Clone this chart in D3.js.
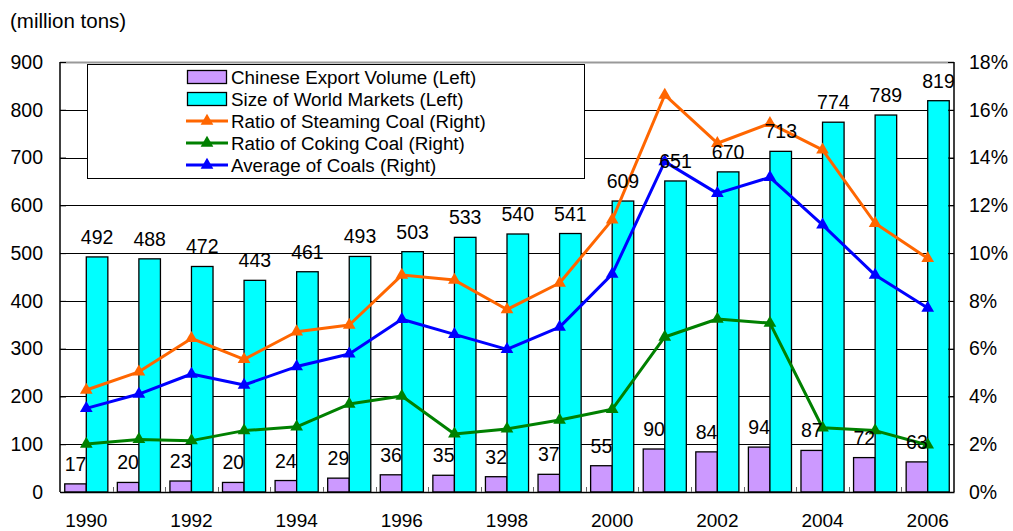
<!DOCTYPE html>
<html>
<head>
<meta charset="utf-8">
<script src="https://cdn.jsdelivr.net/npm/d3@7"></script>
<style>
  html, body { margin: 0; padding: 0; background: #fff; }
  svg { display: block; font-family: "Liberation Sans", Arial, sans-serif; }
</style>
</head>
<body>
<svg id="chart" width="1013" height="531"></svg>
<script>
// Coal trade: Chinese exports vs. world market size, plus coal export ratios
const years = [1990, 1991, 1992, 1993, 1994, 1995, 1996, 1997, 1998, 1999, 2000, 2001, 2002, 2003, 2004, 2005, 2006];
const yearLabels = ["1990", "1992", "1994", "1996", "1998", "2000", "2002", "2004", "2006"];
const chineseExport = [17, 20, 23, 20, 24, 29, 36, 35, 32, 37, 55, 90, 84, 94, 87, 72, 63];
const worldMarket = [492, 488, 472, 443, 461, 493, 503, 533, 540, 541, 609, 651, 670, 713, 774, 789, 819];
const steamingRatio = [4.27, 5.03, 6.43, 5.55, 6.71, 6.99, 9.08, 8.87, 7.64, 8.75, 11.39, 16.62, 14.6, 15.43, 14.32, 11.25, 9.78];
const cokingRatio = [2.01, 2.2, 2.15, 2.57, 2.73, 3.68, 4.02, 2.43, 2.64, 3.01, 3.46, 6.49, 7.24, 7.07, 2.69, 2.57, 1.97];
const averageRatio = [3.5, 4.1, 4.94, 4.48, 5.25, 5.78, 7.23, 6.6, 5.97, 6.9, 9.12, 13.83, 12.5, 13.17, 11.18, 9.08, 7.7];
const leftTicks = [0, 100, 200, 300, 400, 500, 600, 700, 800, 900];
const rightTicks = [0, 2, 4, 6, 8, 10, 12, 14, 16, 18];

const svg = d3.select("#chart");
const plot = { left: 60, right: 954, top: 62, bottom: 492 };

const x = d3.scaleBand().domain(years).range([plot.left, plot.right]).padding(0);
const xSub = d3.scaleBand().domain(["export", "world"]).range([0, x.bandwidth()])
  .paddingInner(0).paddingOuter(0.22);
const yL = d3.scaleLinear().domain([0, 900]).range([plot.bottom, plot.top]);
const yR = d3.scaleLinear().domain([0, 18]).range([plot.bottom, plot.top]);

const numFont = "19.5px";

// plot background
svg.append("rect")
  .attr("x", plot.left).attr("y", plot.top)
  .attr("width", plot.right - plot.left).attr("height", plot.bottom - plot.top)
  .attr("fill", "#fff");

// horizontal gridlines
svg.append("g").selectAll("line").data(leftTicks.filter(d => d > 0 && d < 900)).join("line")
  .attr("x1", plot.left).attr("x2", plot.right)
  .attr("y1", d => Math.round(yL(d)) + 0.5).attr("y2", d => Math.round(yL(d)) + 0.5)
  .attr("stroke", "#000").attr("stroke-width", 1);

// top border of plot area
svg.append("line")
  .attr("x1", plot.left).attr("x2", plot.right)
  .attr("y1", plot.top + 0.5).attr("y2", plot.top + 0.5)
  .attr("stroke", "#999").attr("stroke-width", 2);

// bars
const groups = svg.append("g").selectAll("g").data(years).join("g")
  .attr("transform", d => `translate(${x(d)},0)`);

groups.append("rect")
  .attr("x", xSub("export")).attr("width", xSub.bandwidth())
  .attr("y", (d, i) => yL(chineseExport[i]))
  .attr("height", (d, i) => yL(0) - yL(chineseExport[i]))
  .attr("fill", "#CC99FF").attr("stroke", "#000").attr("stroke-width", 1.3);

groups.append("rect")
  .attr("x", xSub("world")).attr("width", xSub.bandwidth())
  .attr("y", (d, i) => yL(worldMarket[i]))
  .attr("height", (d, i) => yL(0) - yL(worldMarket[i]))
  .attr("fill", "#00FFFF").attr("stroke", "#000").attr("stroke-width", 1.3);

// axes
const leftAxis = d3.axisLeft(yL).tickValues(leftTicks).tickSize(-6).tickPadding(17);
const gL = svg.append("g").attr("transform", `translate(${plot.left},0)`).call(leftAxis);
const rightAxis = d3.axisRight(yR).tickValues(rightTicks).tickSize(-6).tickPadding(15)
  .tickFormat(d => d + "%");
const gR = svg.append("g").attr("transform", `translate(${plot.right},0)`).call(rightAxis);
const bottomAxis = d3.axisBottom(x).tickValues([]).tickSize(0);
const gB = svg.append("g").attr("transform", `translate(0,${plot.bottom})`).call(bottomAxis);

[gL, gR, gB].forEach(g => {
  g.select(".domain").attr("stroke", "#000").attr("stroke-width", 1.5);
  g.selectAll(".tick line").attr("stroke", "#000");
  g.selectAll(".tick text").attr("fill", "#000").style("font-size", numFont)
    .style("font-family", "'Liberation Sans', Arial, sans-serif");
});
gL.select(".domain").remove();
gL.append("line").attr("y1", plot.top).attr("y2", plot.bottom).attr("stroke", "#000").attr("stroke-width", 1.5);
gR.select(".domain").remove();
gR.append("line").attr("y1", plot.top).attr("y2", plot.bottom).attr("stroke", "#000").attr("stroke-width", 1.5);

// category dividers on the baseline
svg.append("g").selectAll("line").data(years.slice(1)).join("line")
  .attr("x1", d => Math.round(x(d)) + 0.5).attr("x2", d => Math.round(x(d)) + 0.5)
  .attr("y1", plot.bottom - 5).attr("y2", plot.bottom)
  .attr("stroke", "#666").attr("stroke-width", 1);

// year labels, every second year
svg.append("g").selectAll("text").data(yearLabels).join("text")
  .attr("x", d => x(+d) + x.bandwidth() / 2)
  .attr("y", 527)
  .attr("text-anchor", "middle")
  .style("font-size", "19px")
  .text(d => d);

// unit label
svg.append("text").attr("x", 10).attr("y", 28).style("font-size", "20.5px").text("(million tons)");

// ratio lines
const series = [
  { values: steamingRatio, color: "#FF6600" },
  { values: cokingRatio, color: "#008000" },
  { values: averageRatio, color: "#0000FF" }
];
const cx = d => x(d) + x.bandwidth() / 2;
const tri = d3.symbol().type(d3.symbolTriangle).size(70);
series.forEach(s => {
  const line = d3.line().x((d, i) => cx(years[i])).y(d => yR(d));
  svg.append("path").datum(s.values).attr("d", line)
    .attr("fill", "none").attr("stroke", s.color).attr("stroke-width", 3).attr("stroke-linejoin", "round");
  svg.append("g").selectAll("path").data(s.values).join("path")
    .attr("d", tri)
    .attr("transform", (d, i) => `translate(${cx(years[i])},${yR(d)})`)
    .attr("fill", s.color);
});

// value labels
svg.append("g").selectAll("text").data(chineseExport).join("text")
  .attr("x", (d, i) => x(years[i]) + xSub("export") + xSub.bandwidth() / 2)
  .attr("y", d => yL(d) - 13)
  .attr("text-anchor", "middle").style("font-size", numFont)
  .text(d => d);
svg.append("g").selectAll("text").data(worldMarket).join("text")
  .attr("x", (d, i) => x(years[i]) + xSub("world") + xSub.bandwidth() / 2)
  .attr("y", d => yL(d) - 13)
  .attr("text-anchor", "middle").style("font-size", numFont)
  .text(d => d);

// legend
const legendItems = [
  { label: "Chinese Export Volume (Left)", type: "bar", color: "#CC99FF" },
  { label: "Size of World Markets (Left)", type: "bar", color: "#00FFFF" },
  { label: "Ratio of Steaming Coal (Right)", type: "line", color: "#FF6600" },
  { label: "Ratio of Coking Coal (Right)", type: "line", color: "#008000" },
  { label: "Average of Coals (Right)", type: "line", color: "#0000FF" }
];
const legend = svg.append("g");
legend.append("rect").attr("x", 87.5).attr("y", 64.5).attr("width", 497).attr("height", 114)
  .attr("fill", "#fff").attr("stroke", "#000").attr("stroke-width", 1);
const rows = legend.selectAll("g.row").data(legendItems).join("g")
  .attr("transform", (d, i) => `translate(0,${77 + i * 22})`);
rows.filter(d => d.type === "bar").append("rect")
  .attr("x", 187.5).attr("y", -6.5).attr("width", 39).attr("height", 13)
  .attr("fill", d => d.color).attr("stroke", "#000").attr("stroke-width", 1.3);
rows.filter(d => d.type === "line").append("line")
  .attr("x1", 186).attr("x2", 228).attr("y1", 0).attr("y2", 0)
  .attr("stroke", d => d.color).attr("stroke-width", 3);
rows.filter(d => d.type === "line").append("path")
  .attr("d", tri).attr("transform", "translate(207,0)").attr("fill", d => d.color);
rows.append("text").attr("x", 231).attr("y", 0).attr("dy", "0.35em")
  .style("font-size", "18.8px").text(d => d.label);
</script>
</body>
</html>
